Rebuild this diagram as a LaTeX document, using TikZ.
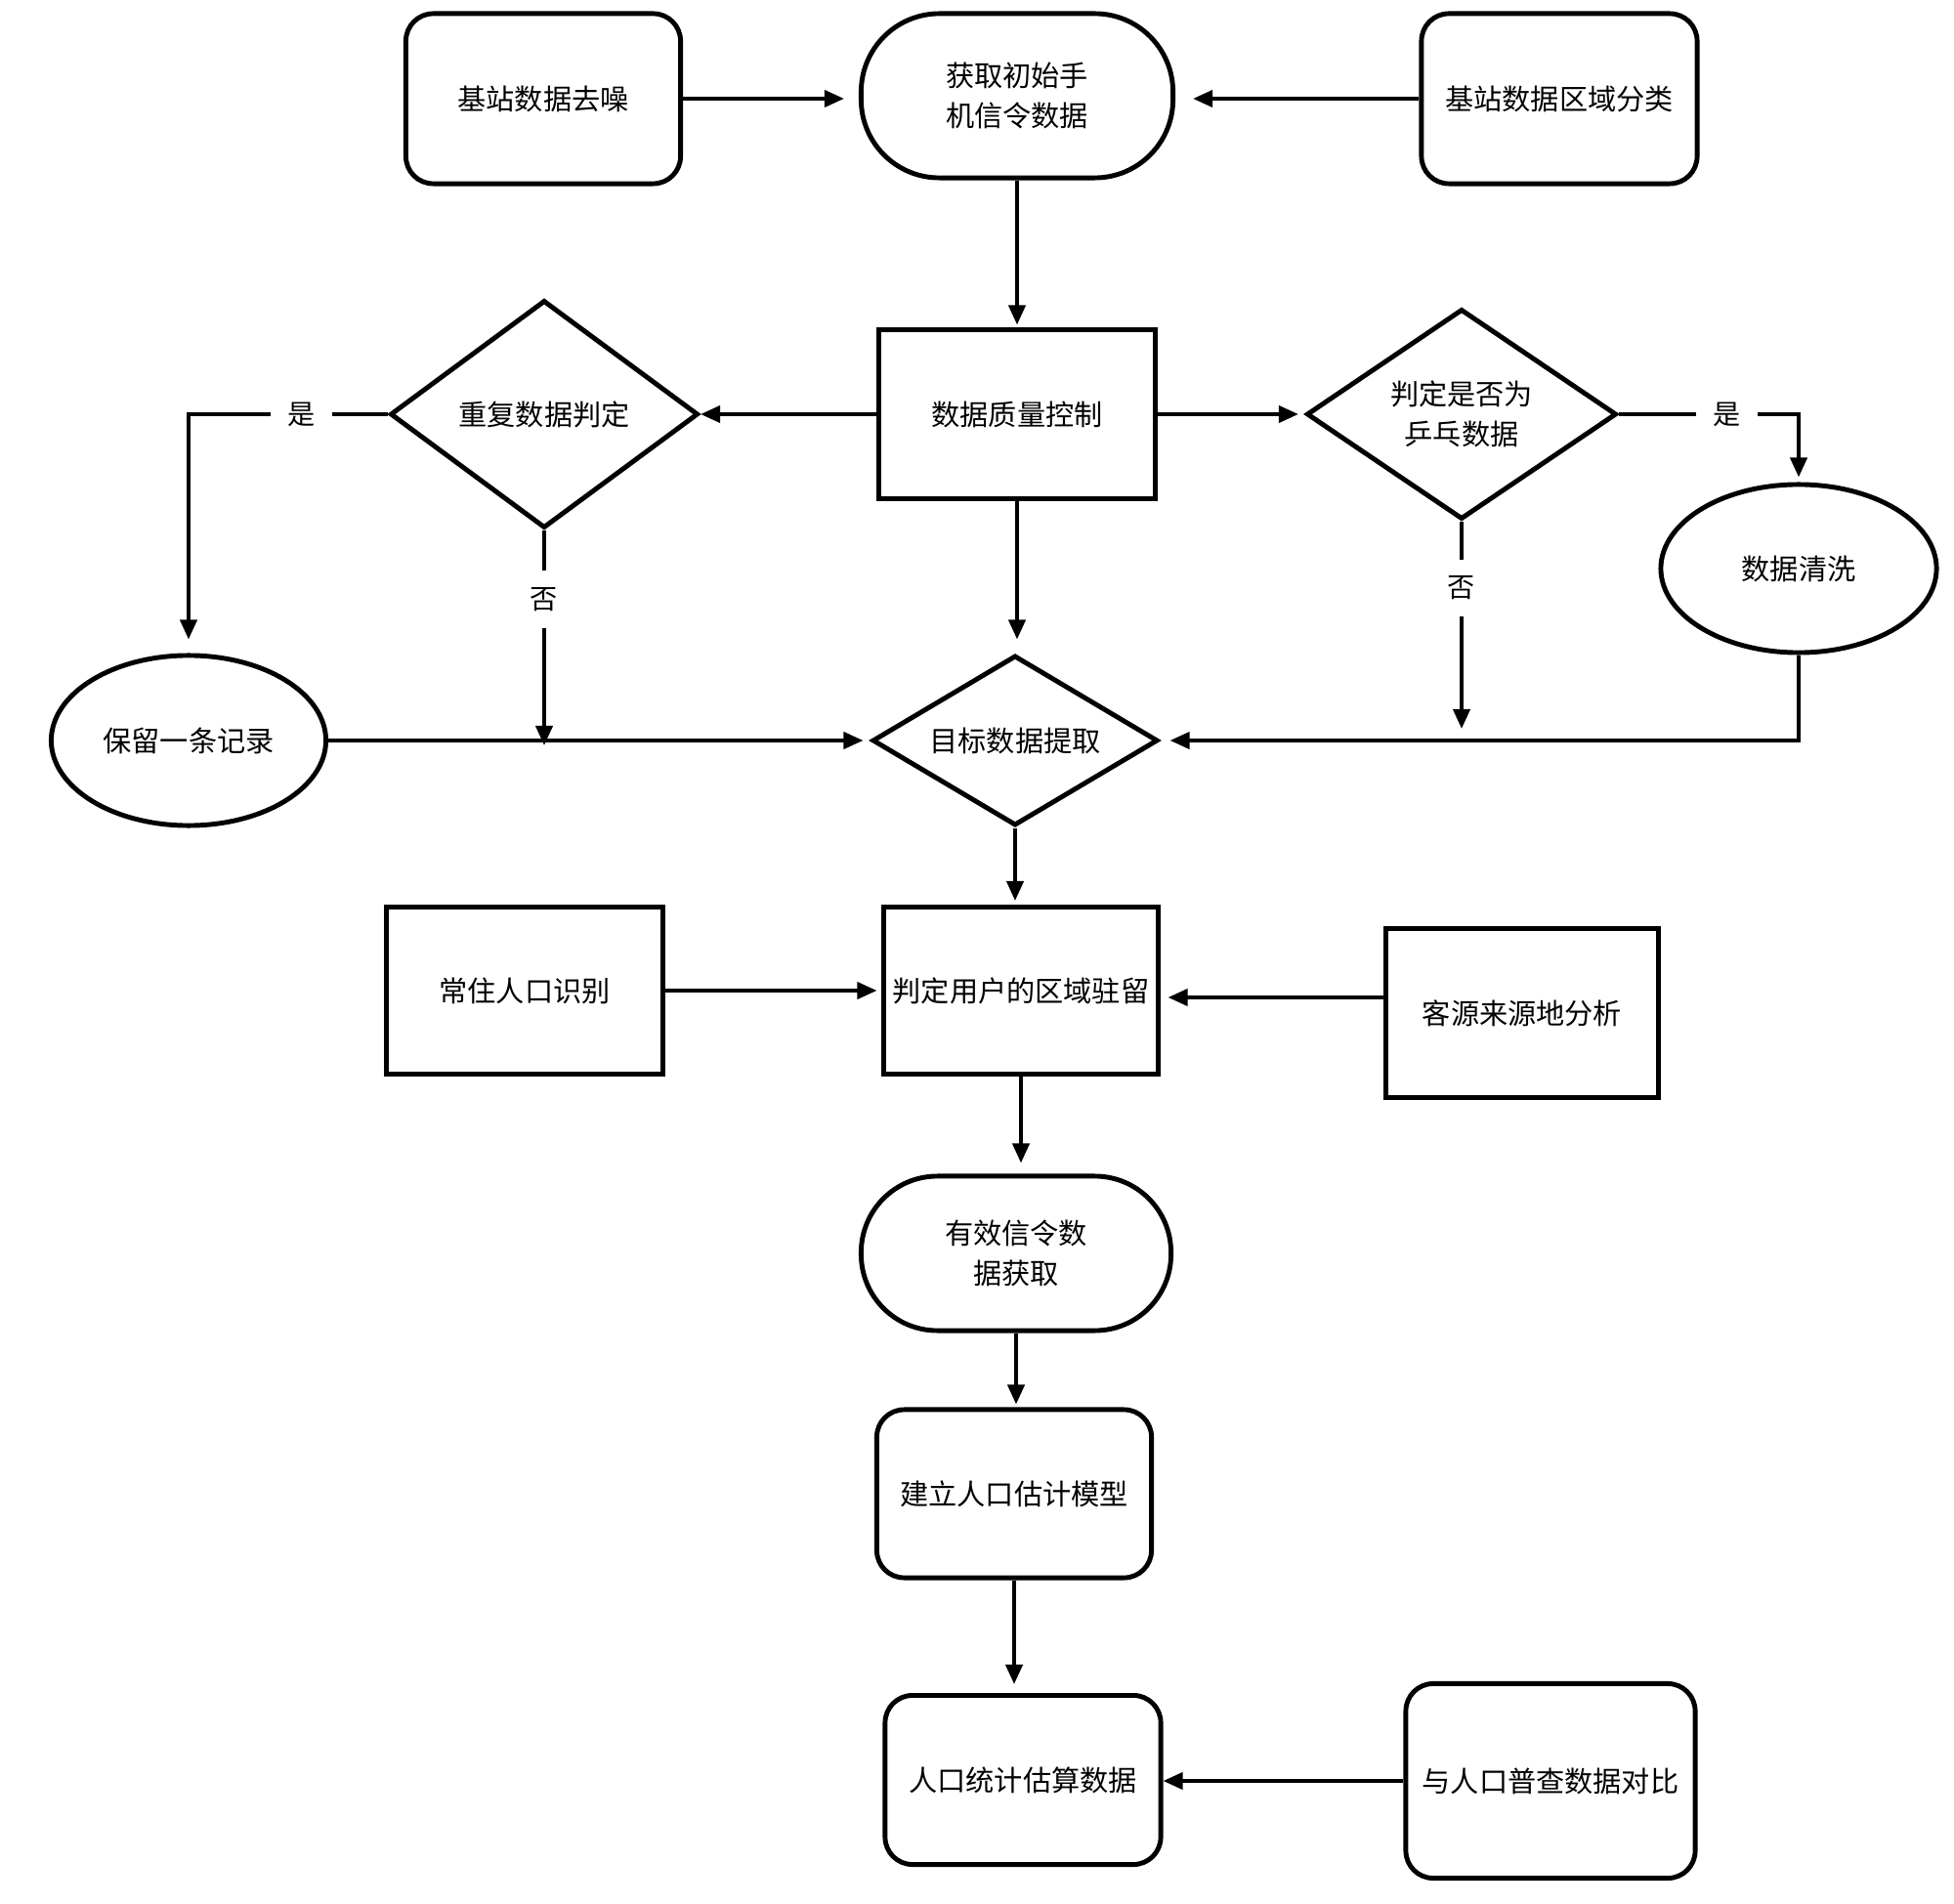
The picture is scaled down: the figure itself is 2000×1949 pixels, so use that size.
\documentclass[tikz,border=0pt]{standalone}
\usepackage{fontspec}
\newfontfamily\cjk{Noto Sans CJK SC}
\usetikzlibrary{shapes.geometric,arrows.meta,calc}
\begin{document}
\begin{tikzpicture}[x=0.01cm,y=-0.01cm,
  base/.style={draw, line width=1.4pt, font=\cjk\fontsize{8.3pt}{11.7pt}\selectfont, align=center, inner sep=0pt},
  rbox/.style={base, rectangle, rounded corners=0.28cm},
  sbox/.style={base, rectangle},
  stad/.style={base, rectangle, rounded corners=0.8cm},
  ell/.style={base, ellipse},
  dia/.style={base, diamond},
  arr/.style={line width=1.1pt, -{Triangle[length=0.2cm,width=0.17cm]}},
  lbl/.style={fill=white, draw=none, inner xsep=0.17cm, inner ysep=0.17cm, font=\cjk\fontsize{8pt}{10pt}\selectfont}
]
\path[fill=white, use as bounding box] (0,0) rectangle (2000,1949);

\node[rbox, minimum width=2.81cm, minimum height=1.74cm] (n1) at (556,101) {基站数据去噪};
\node[stad, minimum width=3.19cm, minimum height=1.68cm] (n2) at (1041,98) {获取初始手\\机信令数据};
\node[rbox, minimum width=2.82cm, minimum height=1.74cm] (n3) at (1596,101) {基站数据区域分类};
\node[sbox, minimum width=2.83cm, minimum height=1.72cm] (n4) at (1041,424) {数据质量控制};
\node[dia, aspect=1.35, minimum width=3.15cm, minimum height=2.33cm] (n5) at (557,424) {重复数据判定};
\node[dia, aspect=1.47, minimum width=3.17cm, minimum height=2.15cm] (n6) at (1496,424) {判定是否为\\乒乓数据};
\node[ell, minimum width=2.81cm, minimum height=1.74cm] (n7) at (193,758) {保留一条记录};
\node[ell, minimum width=2.82cm, minimum height=1.72cm] (n8) at (1841,582) {数据清洗};
\node[dia, aspect=1.68, minimum width=2.92cm, minimum height=1.74cm] (n9) at (1039,758) {目标数据提取};
\node[sbox, minimum width=2.82cm, minimum height=1.71cm] (n10) at (537,1014) {常住人口识别};
\node[sbox, minimum width=2.80cm, minimum height=1.71cm] (n11) at (1045,1014) {判定用户的区域驻留};
\node[sbox, minimum width=2.79cm, minimum height=1.72cm] (n12) at (1558,1037) {客源来源地分析};
\node[stad, rounded corners=0.78cm, minimum width=3.17cm, minimum height=1.58cm] (n13) at (1040,1283) {有效信令数\\据获取};
\node[rbox, minimum width=2.81cm, minimum height=1.72cm] (n14) at (1038,1529) {建立人口估计模型};
\node[rbox, minimum width=2.82cm, minimum height=1.73cm] (n15) at (1047,1822) {人口统计估算数据};
\node[rbox, minimum width=2.96cm, minimum height=1.99cm] (n16) at (1587,1823) {与人口普查数据对比};

\draw[arr, shorten >=0.15cm] (n1.east) -- (n1.east -| n2.west);
\draw[arr, shorten >=0.18cm] (n3.west) -- (n3.west -| n2.east);
\draw[arr, shorten >=0.03cm] (n2.south) -- (n4.north);
\draw[arr] (n4.west) -- (n5.east);
\draw[arr, shorten >=0.06cm] (n4.east) -- (n6.west);
\draw[arr, shorten >=0.14cm] (n5.west) -| node[lbl, pos=0.217]{是} (n7.north);
\draw[arr] (n5.south) -- node[lbl, pos=0.32]{否} ($(n5.south |- n9.west)+(0,5)$);
\draw[arr, shorten >=0.07cm] (n7.east) -- (n9.west);
\draw[arr, shorten >=0.14cm] (n4.south) -- (n4.south |- n9.north);
\draw[arr, shorten >=0.05cm] (n6.east) -| node[lbl, pos=0.3]{是} (n8.north);
\draw[arr] (n6.south) -- node[lbl, pos=0.32]{否} ($(n6.south |- n9.east)+(0,-12)$);
\draw[arr, shorten >=0.1cm] (n8.south) |- (n9.east);
\draw[arr, shorten >=0.04cm] (n9.south) -- (n9.south |- n11.north);
\draw[arr, shorten >=0.05cm] (n10.east) -- (n11.west);
\draw[arr, shorten >=0.08cm] ($(n12.west)+(0,-16)$) -- ($(n12.west -| n11.east)+(0,-16)$);
\draw[arr, shorten >=0.11cm] (n11.south) -- (n11.south |- n13.north);
\draw[arr, shorten >=0.03cm] (n13.south) -- (n13.south |- n14.north);
\draw[arr, shorten >=0.09cm] (n14.south) -- (n14.south |- n15.north);
\draw[arr] (n16.west) -- (n16.west -| n15.east);
\end{tikzpicture}
\end{document}
